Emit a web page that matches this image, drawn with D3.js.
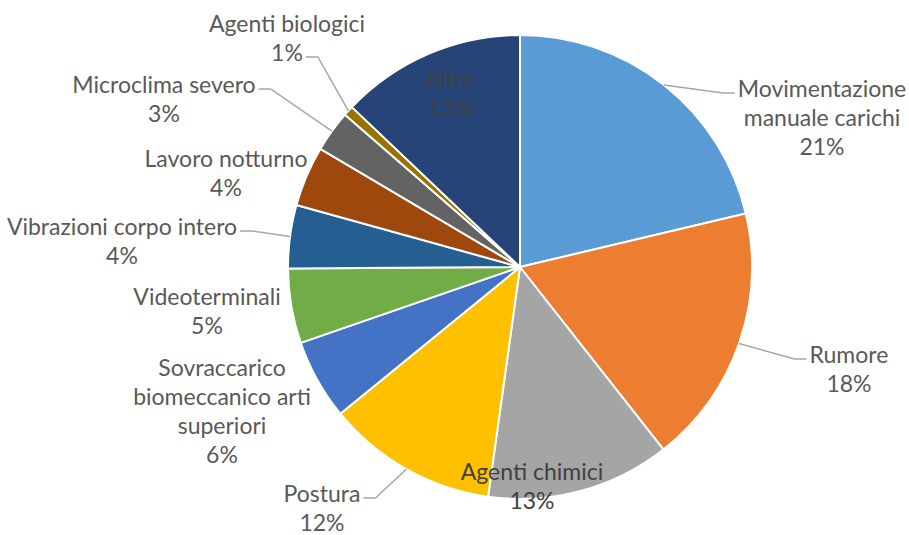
<!DOCTYPE html>
<html>
<head>
<meta charset="utf-8">
<script src="https://cdn.jsdelivr.net/npm/d3@7"></script>
<style>
  html, body { margin: 0; padding: 0; background: #ffffff; }
  svg { display: block; }
</style>
</head>
<body>
<svg id="chart" width="909" height="535"></svg>
<script>
// ---- data ----
const categories = [
  "Movimentazione manuale carichi",
  "Rumore",
  "Agenti chimici",
  "Postura",
  "Sovraccarico biomeccanico arti superiori",
  "Videoterminali",
  "Vibrazioni corpo intero",
  "Lavoro notturno",
  "Microclima severo",
  "Agenti biologici",
  "Altro"
];
const values = [21.3, 18.1, 12.8, 11.9, 5.6, 5.2, 4.4, 4.2, 2.9, 0.7, 12.9];
const colors = ["#5B9BD5", "#ED7D31", "#A5A5A5", "#FFC000", "#4472C4", "#70AD47",
                "#255E91", "#9E480E", "#636363", "#997300", "#264478"];
// label text lines (category split as in the chart)
const labelLines = [
  ["Movimentazione", "manuale carichi"],
  ["Rumore"],
  ["Agenti chimici"],
  ["Postura"],
  ["Sovraccarico", "biomeccanico arti", "superiori"],
  ["Videoterminali"],
  ["Vibrazioni corpo intero"],
  ["Lavoro notturno"],
  ["Microclima severo"],
  ["Agenti biologici"],
  ["Altro"]
];

// ---- layout (label placement relative to pie centre) ----
const labelLayout = [
  { dx: 302,  dy: -170, leader: { line: 0, side: "left" } },
  { dx: 329,  dy: 96,   leader: { line: 0, side: "left" } },
  { dx: 12,   dy: 213,  leader: null, inside: true },
  { dx: -198, dy: 235,  leader: { line: 0, side: "right" } },
  { dx: -298, dy: 109,  leader: null },
  { dx: -313, dy: 38,   leader: null },
  { dx: -398, dy: -32,  leader: { line: 0, side: "right" } },
  { dx: -294, dy: -100, leader: null },
  { dx: -356, dy: -174, leader: { line: 0, side: "right" } },
  { dx: -233, dy: -235, leader: { line: 1, side: "right" } },
  { dx: -70,  dy: -180, leader: null, inside: true }
];

const W = 909, H = 535;
const cx = 520, cy = 267, R = 232;
const fontSize = 23, lineH = 29;

const svg = d3.select("#chart");
const g = svg.append("g").attr("transform", `translate(${cx},${cy})`);

const pie = d3.pie().sort(null).value(d => d.value);
const data = categories.map((c, i) => ({ name: c, value: values[i], i }));
const arcs = pie(data);
const arc = d3.arc().innerRadius(0).outerRadius(R);

g.selectAll("path.slice")
  .data(arcs)
  .join("path")
  .attr("class", "slice")
  .attr("d", arc)
  .attr("fill", d => colors[d.data.i])
  .attr("stroke", "#ffffff")
  .attr("stroke-width", 2)
  .attr("stroke-linejoin", "round");

const total = d3.sum(values);
const fmt = v => Math.round(v / total * 100) + "%";

const labelsG = g.append("g");
const leadersG = g.insert("g", () => labelsG.node());

arcs.forEach((a, i) => {
  const lay = labelLayout[i];
  const lines = labelLines[i].concat([fmt(values[i])]);
  const t = labelsG.append("text")
    .attr("text-anchor", "middle")
    .attr("font-family", "Lato, 'Open Sans', sans-serif")
    .attr("font-size", fontSize)
    .attr("fill", lay.inside ? "#404040" : "#595959");
  const tspans = lines.map((ln, k) =>
    t.append("tspan").attr("x", lay.dx).attr("y", lay.dy + k * lineH).text(ln));
  if (lay.leader) {
    const k = lay.leader.line;
    const w = tspans[k].node().getComputedTextLength();
    const ly = lay.dy + k * lineH - 4;
    const sgn = lay.leader.side === "left" ? -1 : 1;
    const ex = lay.dx + sgn * (w / 2 + 3);
    const elx = ex + sgn * 12;
    const ang = (a.startAngle + a.endAngle) / 2;
    const sx = Math.sin(ang) * R, sy = -Math.cos(ang) * R;
    leadersG.append("polyline")
      .attr("points", [[sx, sy], [elx, ly], [ex, ly]].map(p => p.join(",")).join(" "))
      .attr("fill", "none")
      .attr("stroke", "#A6A6A6")
      .attr("stroke-width", 1.5);
  }
});
</script>
</body>
</html>
